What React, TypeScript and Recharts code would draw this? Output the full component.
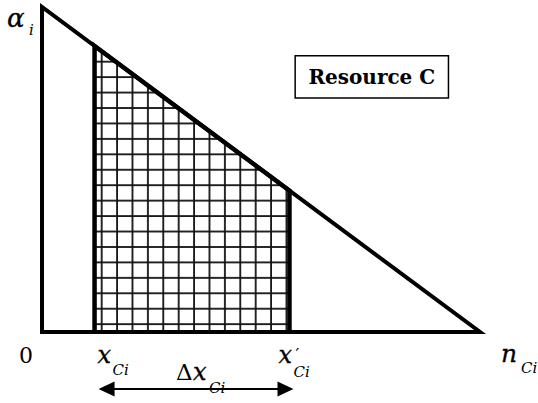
import React from 'react';
import { ComposedChart, Line, Area, XAxis, YAxis, ReferenceDot, ReferenceLine, ReferenceArea } from 'recharts';

// triangle: alpha_i falls linearly from its max at 0 to zero at n_Ci
const triangle = [
    { x: 0, y: 0 },
    { x: 0, y: 100 },
    { x: 100, y: 0 },
    { x: 0, y: 0 },
];

const xCi = 12;
const xCiPrime = 56.5;

// hatched slice under the line between x_Ci and x'_Ci
const hatchTop = [
    { x: xCi, y: 88 },
    { x: xCiPrime, y: 43.5 },
];
const hatchOutline = [
    { x: xCi, y: 0 },
    { x: xCi, y: 88 },
    { x: xCiPrime, y: 43.5 },
    { x: xCiPrime, y: 0 },
];

const boxX = [57.8, 92.8];
const boxY = [72, 85];
const boxLabel = 'Resource C';

const serif = 'DejaVu Serif, serif';

// italic symbol with a subscript (and optional prime), offsets in px from the anchor
function Sym({ x, y, main, sub, size = 24, subSize = 15, subDx = 15, subDy = 12, prime = false }: any) {
    return (
        <g fontFamily={serif} fontStyle="italic" fill="#000">
            <text x={x} y={y} fontSize={size} stroke="#000" strokeWidth={0.3}>{main}</text>
            {prime && (
                <text x={x + subDx + 2} y={y - 3} fontSize={17} fontStyle="normal">′</text>
            )}
            <text x={x + subDx} y={y + subDy} fontSize={subSize}>{sub}</text>
        </g>
    );
}

export default function App() {
    return (
        <div style={{ position: 'absolute', left: 0, top: 0, background: '#fff' }}>
            <ComposedChart width={538} height={403} margin={{ top: 7, right: 58, bottom: 71, left: 42 }}>
                <defs>
                    <pattern id="grid" patternUnits="userSpaceOnUse" x={100.7} y={60.7} width={15.4} height={15.44}>
                        <line x1={1} y1={0} x2={1} y2={15.44} stroke="#111" strokeWidth={1.8} />
                        <line x1={0} y1={1} x2={15.4} y2={1} stroke="#111" strokeWidth={1.8} />
                    </pattern>
                </defs>
                <XAxis type="number" dataKey="x" domain={[0, 100]} hide />
                <YAxis type="number" domain={[0, 100]} hide />
                <Area
                    data={hatchTop}
                    dataKey="y"
                    type="linear"
                    fill="url(#grid)"
                    fillOpacity={1}
                    stroke="none"
                    isAnimationActive={false}
                />
                <Line
                    data={hatchOutline}
                    dataKey="y"
                    type="linear"
                    stroke="#000"
                    strokeWidth={4.5}
                    dot={false}
                    isAnimationActive={false}
                />
                <Line
                    data={triangle}
                    dataKey="y"
                    type="linear"
                    stroke="#000"
                    strokeWidth={4}
                    strokeLinecap="square"
                    dot={false}
                    isAnimationActive={false}
                />
                <ReferenceArea
                    x1={boxX[0]}
                    x2={boxX[1]}
                    y1={boxY[0]}
                    y2={boxY[1]}
                    fill="#fff"
                    fillOpacity={1}
                    stroke="#000"
                    strokeWidth={1.5}
                    label={{
                        value: boxLabel,
                        position: 'center',
                        fill: '#000',
                        fontSize: 20,
                        fontWeight: 'bold',
                        fontFamily: serif,
                    }}
                />
                <ReferenceLine
                    segment={[{ x: xCi, y: 0 }, { x: xCiPrime, y: 0 }]}
                    stroke="#000"
                    shape={(p: any) => {
                        const y = p.y1 + 57;
                        const a = p.x1 + 4;
                        const b = p.x2 + 4;
                        return (
                            <g>
                                <line x1={a + 10} y1={y} x2={b - 10} y2={y} stroke="#000" strokeWidth={1.8} />
                                <polygon points={`${a},${y} ${a + 16},${y - 7.5} ${a + 16},${y + 7.5}`} fill="#000" />
                                <polygon points={`${b},${y} ${b - 16},${y - 7.5} ${b - 16},${y + 7.5}`} fill="#000" />
                            </g>
                        );
                    }}
                />
                <ReferenceDot
                    x={0}
                    y={0}
                    r={0}
                    shape={(p: any) => (
                        <text x={p.cx - 23} y={p.cy + 31} fontFamily={serif} fontSize={22} fill="#000">0</text>
                    )}
                />
                <ReferenceDot
                    x={0}
                    y={100}
                    r={0}
                    shape={(p: any) => (
                        <Sym x={p.cx - 35} y={p.cy + 20} main="α" sub="i" size={26} subSize={15} subDx={22} subDy={8} />
                    )}
                />
                <ReferenceDot
                    x={xCi}
                    y={0}
                    r={0}
                    shape={(p: any) => <Sym x={p.cx + 3} y={p.cy + 31} main="x" sub="Ci" />}
                />
                <ReferenceDot
                    x={xCiPrime}
                    y={0}
                    r={0}
                    shape={(p: any) => <Sym x={p.cx - 11} y={p.cy + 31} main="x" sub="Ci" subDy={14} prime />}
                />
                <ReferenceDot
                    x={(xCi + xCiPrime) / 2}
                    y={0}
                    r={0}
                    shape={(p: any) => (
                        <g>
                            <text x={p.cx - 16} y={p.cy + 48} fontFamily={serif} fontSize={23} fill="#000">Δ</text>
                            <Sym x={p.cx + 1} y={p.cy + 48} main="x" sub="Ci" subDx={16} subDy={13} />
                        </g>
                    )}
                />
                <ReferenceDot
                    x={100}
                    y={0}
                    r={0}
                    shape={(p: any) => <Sym x={p.cx + 21} y={p.cy + 30} main="n" sub="Ci" size={25} subDx={20} subDy={11} />}
                />
            </ComposedChart>
        </div>
    );
}
